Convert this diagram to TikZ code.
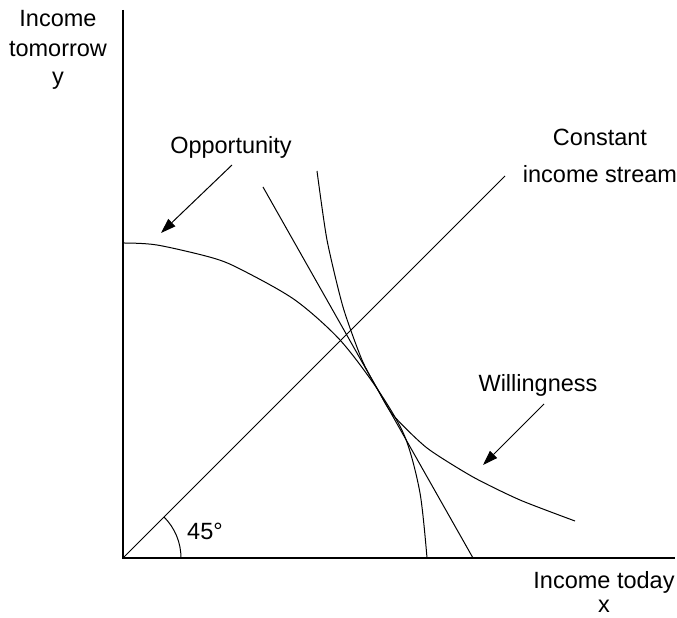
\documentclass[tikz,border=0pt]{standalone}
\usepackage{fontspec}
\setmainfont{Liberation Sans}
\usetikzlibrary{arrows.meta}

\begin{document}
\begin{tikzpicture}[x=1pt,y=1pt]
\tikzstyle{every node}+=[inner sep=0pt]
\tikzstyle{lbl}=[font=\fontsize{23.5}{30}\selectfont, align=center, anchor=base]
\tikzstyle{curve}=[black, line width=1pt]
\tikzstyle{pointer}=[black, line width=1pt, -{Triangle[length=15pt,width=10pt]}]
\useasboundingbox (-123,-60) rectangle (554,558);
% axes
\coordinate (O) at (0,0);
\coordinate (ytop) at (0,548);
\coordinate (xend) at (552,0);
\draw [black, line width=1.2pt] (ytop) -- (O) -- (xend);
\node [lbl] (ylab) at (-65,473) {Income\\tomorrow\\[-2pt]y};
\node [lbl, font=\fontsize{23.5}{24}\selectfont] (xlab) at (481,-54) {Income today\\x};
% 45 degree line
\coordinate (diag) at (382,382);
\draw [curve] (O) -- (diag);
\draw [curve] (58,0) arc (0:45:58);
\node [lbl] (ang) at (82,18) {45°};
\node [lbl, font=\fontsize{23.5}{37}\selectfont] (const) at (477,375) {Constant\\income stream};
% opportunity curve
\draw [curve] plot [smooth, tension=0.5] coordinates {(0,315) (34,313) (90,300) (119,288) (172,258) (217,218) (255,168) (282,121) (297,65) (304,0)};
% willingness curve
\draw [curve] plot [smooth, tension=0.4] coordinates {(194,387) (204,318) (220,251) (239,198) (255,168) (270,143) (304,110) (350,81) (397,58) (452,37)};
% tangent line
\coordinate (tA) at (140,371);
\coordinate (tB) at (350,0);
\draw [curve] (tA) -- (tB);
% labels with arrows
\node [lbl] (opp) at (108,404) {Opportunity};
\coordinate (oppS) at (109,393);
\coordinate (oppE) at (38,325);
\draw [pointer] (oppS) -- (oppE);
\node [lbl] (will) at (415,166) {Willingness};
\coordinate (willS) at (421,154);
\coordinate (willE) at (360,93);
\draw [pointer] (willS) -- (willE);
\end{tikzpicture}
\end{document}
